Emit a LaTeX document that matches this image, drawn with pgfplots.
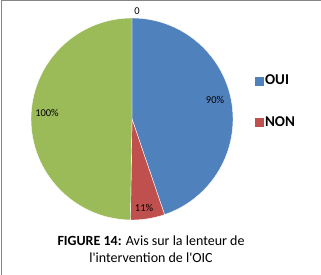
\documentclass[border=0pt]{standalone}
\usepackage{pgfplots}
\usepackage{pgfplotstable}
\pgfplotsset{compat=1.18}
\usepackage{fontspec}
\setmainfont{Carlito}
\definecolor{oiblue}{HTML}{4F81BD}
\definecolor{oired}{HTML}{C0504D}
\definecolor{oigreen}{HTML}{9BBB59}
\definecolor{frame}{HTML}{868686}
\pgfplotstableread{
label value
OUI 90
NON 11
X 100
}\piedata
\begin{document}
\begin{tikzpicture}
\pgfplotstablegetelem{0}{value}\of\piedata \let\va\pgfplotsretval
\pgfplotstablegetelem{1}{value}\of\piedata \let\vb\pgfplotsretval
\pgfplotstablegetelem{2}{value}\of\piedata \let\vc\pgfplotsretval
\pgfmathsetmacro{\tot}{\va+\vb+\vc}
\pgfmathsetmacro{\aA}{90-360*(\va/\tot)}
\pgfmathsetmacro{\aB}{\aA-360*(\vb/\tot)}
\pgfmathsetmacro{\aC}{\aB-360*(\vc/\tot)}
\path[use as bounding box] (0,0) rectangle (321pt,275pt);
\draw[frame, line width=1.3pt] (1.6pt,0) -- (1.6pt,274.35pt) -- (321pt,274.35pt);
\begin{axis}[
  at={(0,0)}, anchor=origin,
  x=1pt, y=1pt, xmin=0, xmax=321, ymin=0, ymax=275,
  axis lines=none, clip=false,
  legend style={at={(axis cs:254.5,173.5)}, anchor=west, draw=none, fill=none,
    inner sep=0pt, row sep=26pt, font=\bfseries\fontsize{15}{17}\selectfont,
    /tikz/every even column/.append style={column sep=2pt}},
  legend cell align=left,
]
\addlegendimage{legend image code/.code={\fill[oiblue] (0pt,-4pt) rectangle (8pt,4pt);}}
\addlegendentry{OUI}
\addlegendimage{legend image code/.code={\fill[oired] (0pt,-4pt) rectangle (8pt,4pt);}}
\addlegendentry{NON}
\fill[oiblue, draw=white, line width=0.4pt] (axis cs:132,156) -- ++(90:101pt) arc[start angle=90, end angle=\aA, radius=101pt] -- cycle;
\fill[oired, draw=white, line width=0.4pt] (axis cs:132,156) -- ++(\aA:101pt) arc[start angle=\aA, end angle=\aB, radius=101pt] -- cycle;
\fill[oigreen, draw=white, line width=0.4pt] (axis cs:132,156) -- ++(\aB:101pt) arc[start angle=\aB, end angle=\aC, radius=101pt] -- cycle;
\node[font=\fontsize{10.5}{12}\selectfont] at (axis cs:215,175) {90\%};
\node[font=\fontsize{10.5}{12}\selectfont] at (axis cs:144,67) {11\%};
\node[font=\fontsize{10.5}{12}\selectfont] at (axis cs:47,162) {100\%};
\node[font=\fontsize{10.5}{12}\selectfont] at (axis cs:137,264) {0};
\node[font=\fontsize{14}{17}\selectfont, align=center, anchor=center] at (axis cs:151,25.5) {\textbf{FIGURE 14:} Avis sur la lenteur de\\l\textquotesingle intervention de l\textquotesingle OIC};
\end{axis}
\end{tikzpicture}
\end{document}
